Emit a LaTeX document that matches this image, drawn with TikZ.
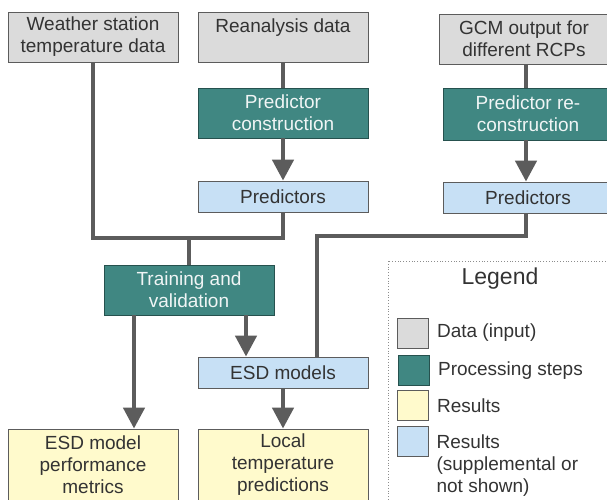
\documentclass[tikz,border=0pt]{standalone}
\usepackage{fontspec}
\setmainfont{Liberation Sans}
\usepackage{tikz}
\usetikzlibrary{arrows.meta,positioning}
\definecolor{datacolor}{rgb}{0.86,0.86,0.86}
\definecolor{stepcolor}{rgb}{0.25,0.53,0.51}
\definecolor{resultcolor}{rgb}{1.0,0.98,0.80}
\definecolor{suppcolor}{rgb}{0.78,0.88,0.96}
\definecolor{linecolor}{rgb}{0.36,0.36,0.36}
\definecolor{textcolor}{rgb}{0.2,0.2,0.2}

\begin{document}
\begin{tikzpicture}[x=1pt,y=-1pt,font=\fontsize{19}{22}\selectfont,
  box/.style={draw=linecolor,line width=0.8pt,minimum width=170pt,inner sep=0pt,align=center,text=textcolor},
  databox/.style={box,fill=datacolor,minimum height=50pt},
  stepbox/.style={box,fill=stepcolor,draw=stepcolor!60!black,text=white!92!stepcolor,minimum height=50pt},
  resultbox/.style={box,fill=resultcolor,minimum height=72pt},
  suppbox/.style={box,fill=suppcolor,minimum height=31pt},
  keybox/.style={minimum width=31pt,minimum height=30pt},
  keytext/.style={right=8pt of #1,anchor=west,inner sep=0pt,text=textcolor,align=left},
  link/.style={draw=linecolor,line width=4.5pt},
  arr/.style={link,-{Triangle[width=21pt,length=21pt]}}]
\useasboundingbox (0,0) rectangle (607,499);

\node[databox] (ws) at (93,37) {Weather station\\temperature data};
\node[databox] (rean) at (283,37) {Reanalysis data\\\mbox{}};
\node[databox] (gcm) at (524,39) {GCM output for\\different RCPs};
\node[stepbox] (pc) at (283,113) {Predictor\\construction};
\node[stepbox,minimum height=52pt] (prc) at (528,114) {Predictor re-\\construction};
\node[suppbox] (predl) at (283,196.5) {Predictors};
\node[suppbox] (predr) at (528,197.5) {Predictors};
\node[stepbox] (tv) at (189,290) {Training and\\validation};
\node[suppbox] (esd) at (283,372.5) {ESD models};
\node[resultbox] (perf) at (93,465) {ESD model\\performance\\metrics};
\node[resultbox] (loc) at (283,465) {Local\\temperature\\predictions};

\coordinate (jl) at (189,238);
\coordinate (jr) at (526,236);
\coordinate (tvl) at ([xshift=-55pt]tv.south);
\coordinate (tvr) at ([xshift=57pt]tv.south);
\coordinate (esdin) at ([xshift=34pt]esd.north);

\draw[link] (rean) -- (pc);
\draw[arr] (pc) -- (predl);
\draw[link] (gcm.south -| jr) -- (prc.north -| jr);
\draw[arr] (prc.south -| jr) -- (predr.north -| jr);
\draw[link] (ws.south) |- (jl) -| (predl.south);
\draw[link] (jl) -- (tv.north);
\draw[link] (predr.south -| jr) -- (jr) -| (esdin);
\draw[arr] (tvl) -- (tvl |- perf.north);
\draw[arr] (tvr) -- (tvr |- esd.north);
\draw[arr] (esd) -- (loc);

\draw[linecolor!70,line width=0.8pt,dotted] (388,261) rectangle (620,520);
\node[text=textcolor] (legend) at (500,279) {\fontsize{23}{26}\selectfont Legend};
\node[box,databox,keybox] (kdata) at (413,333) {};
\node[box,stepbox,keybox] (kstep) at (414,370.5) {};
\node[box,resultbox,keybox] (kres) at (413,405.5) {};
\node[box,suppbox,keybox] (ksupp) at (412.5,441.5) {};
\node[keytext=kdata] (tdata) {Data (input)};
\node[keytext=kstep] (tstep) {Processing steps};
\node[keytext=kres] (tres) {Results};
\node[keytext=ksupp,anchor=north west,yshift=7pt] (tsupp) at (ksupp.east) {Results\\(supplemental or\\not shown)};
\end{tikzpicture}
\end{document}
